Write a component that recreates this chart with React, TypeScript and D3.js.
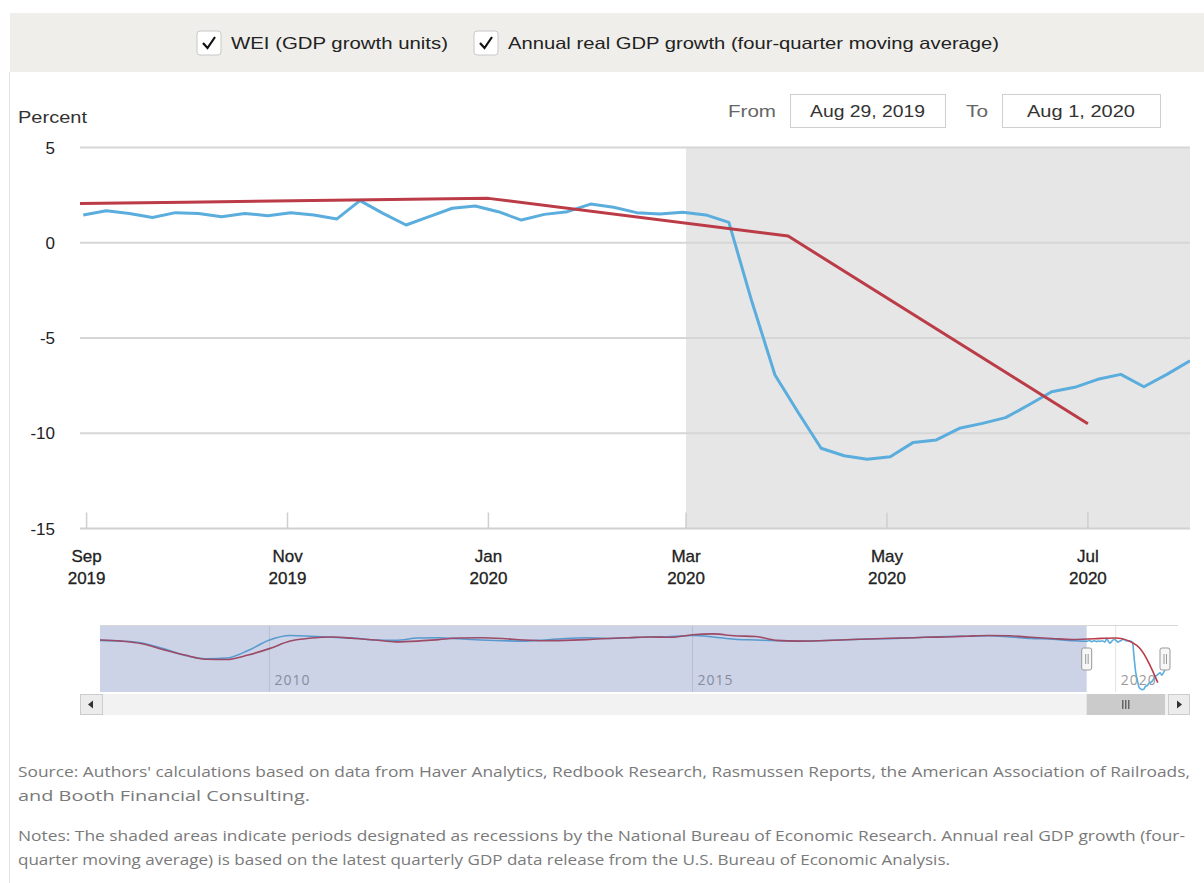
import React, { useEffect, useRef } from 'react';
import * as d3 from 'd3';

// series labels
const seriesNames = ['WEI (GDP growth units)', 'Annual real GDP growth (four-quarter moving average)'];

// WEI, weekly (weeks ending Saturday), Aug 31, 2019 .. Aug 1, 2020
const weiStart = new Date(2019, 7, 31);
const weiWeekly = [
  1.46, 1.68, 1.54, 1.33, 1.58, 1.54, 1.37, 1.54, 1.42, 1.58, 1.46, 1.25, 2.21, 1.54, 0.93, 1.37,
  1.81, 1.93, 1.63, 1.19, 1.49, 1.63, 2.03, 1.86, 1.58, 1.51, 1.6, 1.46, 1.07, -3.1, -6.94, -8.9,
  -10.79, -11.18, -11.37, -11.23, -10.48, -10.35, -9.74, -9.48, -9.18, -8.52, -7.82, -7.59, -7.17,
  -6.91, -7.56, -6.91, -6.19,
];

// WEI history for the navigator, one value per quarter, 2008Q1 .. 2019Q3
const weiHistStart = new Date(2008, 0, 1);
const weiHistory = [
  1.7, 1.5, 1.0, -0.5, -2.3, -3.2, -3.0, -1.0, 1.8, 3.0, 2.8, 2.5, 2.3, 1.8, 1.7, 2.3,
  2.4, 2.1, 1.8, 1.6, 1.5, 1.8, 2.2, 2.4, 2.2, 2.4, 2.6, 2.7, 3.0, 2.6, 2.0, 1.8,
  1.6, 1.5, 1.6, 1.8, 2.0, 2.1, 2.3, 2.5, 2.7, 2.8, 2.9, 2.6, 2.2, 2.0, 1.6,
];

// annual real GDP growth (four-quarter moving average), quarter starts 2008Q1 .. 2020Q3
const gdpStart = new Date(2008, 0, 1);
const gdpQuarterly = [
  1.8, 1.5, 0.8, -0.8, -2.2, -3.3, -3.4, -2.2, -0.5, 1.5, 2.3, 2.6, 2.2, 1.8, 1.3, 1.5,
  1.9, 2.3, 2.4, 2.2, 1.8, 1.6, 1.7, 1.9, 2.2, 2.4, 2.6, 2.5, 3.2, 3.4, 2.9, 2.7,
  1.7, 1.5, 1.6, 1.8, 2.0, 2.2, 2.3, 2.5, 2.6, 2.8, 3.0, 2.9, 2.5, 2.2, 1.93, 2.13,
  2.33, 0.35, -9.5,
];

const yTicks = [5, 0, -5, -10, -15];
const navYears = [2010, 2015, 2020];
const rangeFrom = new Date(2019, 7, 29);
const rangeTo = new Date(2020, 7, 1);
const recessionStart = new Date(2020, 2, 1);

const sourceLines = [
  "Source: Authors' calculations based on data from Haver Analytics, Redbook Research, Rasmussen Reports, the American Association of Railroads,",
  'and Booth Financial Consulting.',
];
const noteLines = [
  'Notes: The shaded areas indicate periods designated as recessions by the National Bureau of Economic Research. Annual real GDP growth (four-',
  'quarter moving average) is based on the latest quarterly GDP data release from the U.S. Bureau of Economic Analysis.',
];

const BLUE = '#5aaddc';
const RED = '#bb3b47';
const FONT = '"Liberation Sans", Arial, sans-serif';

function App() {
  const svgRef = useRef<SVGSVGElement>(null);

  useEffect(() => {
    const svg = d3.select(svgRef.current);
    svg.selectAll('*').remove();

    const wei = weiWeekly.map((v, i) => ({ date: d3.timeDay.offset(weiStart, 7 * i), value: v }));
    const weiHist = weiHistory.map((v, i) => ({ date: d3.timeMonth.offset(weiHistStart, 3 * i), value: v }));
    const gdp = gdpQuarterly.map((v, i) => ({ date: d3.timeMonth.offset(gdpStart, 3 * i), value: v }));

    // header band with the legend checkboxes
    svg.append('rect').attr('x', 10).attr('y', 13).attr('width', 1194).attr('height', 59).attr('fill', '#efeeea');
    svg.append('line').attr('x1', 9.5).attr('x2', 9.5).attr('y1', 72).attr('y2', 883).attr('stroke', '#e2e2e2');

    const legendX = [197, 474];
    const legendW = [217, 491];
    seriesNames.forEach((name, i) => {
      const g = svg.append('g').attr('transform', `translate(${legendX[i]},31)`);
      g.append('rect').attr('width', 24).attr('height', 24).attr('rx', 3).attr('fill', '#fff').attr('stroke', '#c8c8c8');
      g.append('path').attr('d', 'M6,12 L10.5,17 L18,6').attr('fill', 'none').attr('stroke', '#111').attr('stroke-width', 2.2);
      g.append('text').attr('x', 34).attr('y', 18).attr('font-family', FONT).attr('font-size', 16.5).attr('fill', '#222')
        .attr('textLength', legendW[i]).attr('lengthAdjust', 'spacingAndGlyphs').text(name);
    });

    // range inputs
    svg.append('text').attr('x', 728).attr('y', 117).attr('font-family', FONT).attr('font-size', 17).attr('fill', '#666')
      .attr('textLength', 48).attr('lengthAdjust', 'spacingAndGlyphs').text('From');
    svg.append('text').attr('x', 966).attr('y', 117).attr('font-family', FONT).attr('font-size', 17).attr('fill', '#666')
      .attr('textLength', 22).attr('lengthAdjust', 'spacingAndGlyphs').text('To');
    const fmtInput = d3.timeFormat('%b %-d, %Y');
    const inputs: [number, number, Date, number][] = [[790, 155, rangeFrom, 115], [1002, 158, rangeTo, 108]];
    inputs.forEach(([x0, w, d, tl]) => {
      svg.append('rect').attr('x', x0 + 0.5).attr('y', 94.5).attr('width', w).attr('height', 33)
        .attr('fill', '#fff').attr('stroke', '#cfcfcf');
      svg.append('text').attr('x', x0 + w / 2 - tl / 2).attr('y', 117)
        .attr('font-family', FONT).attr('font-size', 17).attr('fill', '#333')
        .attr('textLength', tl).attr('lengthAdjust', 'spacingAndGlyphs').text(fmtInput(d));
    });

    svg.append('text').attr('x', 18).attr('y', 123).attr('font-family', FONT).attr('font-size', 17).attr('fill', '#333')
      .attr('textLength', 69).attr('lengthAdjust', 'spacingAndGlyphs').text('Percent');

    // main plot
    const x = d3.scaleTime().domain([new Date(2019, 7, 30), rangeTo]).range([80, 1190]);
    const y = d3.scaleLinear().domain([-15, 5]).range([528.5, 147.5]);
    const [px0, px1] = x.range();

    svg.append('defs').append('clipPath').attr('id', 'plotClip')
      .append('rect').attr('x', px0).attr('y', y(5) - 2).attr('width', px1 - px0).attr('height', y(-15) - y(5) + 4);

    svg.append('rect').attr('x', x(recessionStart)).attr('y', y(5)).attr('width', px1 - x(recessionStart))
      .attr('height', y(-15) - y(5)).attr('fill', '#e6e6e6');

    svg.append('g').selectAll('line').data(yTicks.filter(t => t !== -15)).join('line')
      .attr('x1', px0).attr('x2', px1).attr('y1', d => y(d)).attr('y2', d => y(d))
      .attr('stroke', '#d6d6d6').attr('stroke-width', 2);

    svg.append('g').selectAll('text').data(yTicks).join('text')
      .attr('x', 55).attr('y', d => y(d) + 6).attr('text-anchor', 'end')
      .attr('font-family', FONT).attr('font-size', 17).attr('fill', '#222').text(d => String(d));

    // x axis
    svg.append('line').attr('x1', px0).attr('x2', px1).attr('y1', y(-15)).attr('y2', y(-15)).attr('stroke', '#d0d0d0').attr('stroke-width', 2);
    const xTicks = x.ticks(d3.timeMonth.every(2) as d3.TimeInterval);
    const xt = svg.append('g').selectAll('g').data(xTicks).join('g').attr('transform', d => `translate(${x(d)},0)`);
    xt.append('line').attr('y1', y(-15) - 16).attr('y2', y(-15)).attr('stroke', '#cfcfcf').attr('stroke-width', 1.5);
    xt.append('text').attr('y', 562).attr('text-anchor', 'middle').attr('font-family', FONT).attr('font-size', 17)
      .attr('fill', '#222').attr('stroke', '#222').attr('stroke-width', 0.3).text(d => d3.timeFormat('%b')(d));
    xt.append('text').attr('y', 584).attr('text-anchor', 'middle').attr('font-family', FONT).attr('font-size', 17)
      .attr('fill', '#222').attr('stroke', '#222').attr('stroke-width', 0.3).text(d => d3.timeFormat('%Y')(d));

    const line = d3.line<{ date: Date; value: number }>().x(d => x(d.date)).y(d => y(d.value));
    const lines = svg.append('g').attr('clip-path', 'url(#plotClip)');
    lines.append('path').datum(wei).attr('d', line).attr('fill', 'none').attr('stroke', BLUE).attr('stroke-width', 3).attr('stroke-linejoin', 'round');
    lines.append('path').datum(gdp).attr('d', line).attr('fill', 'none').attr('stroke', RED).attr('stroke-width', 3).attr('stroke-linejoin', 'round');

    // navigator
    const xN = d3.scaleTime().domain([new Date(2008, 0, 1), rangeTo]).range([100, 1165]);
    const yN = d3.scaleLinear().domain([-12, 5.5]).range([692, 626]);
    const nx0 = 100;
    const nx1 = 1178;

    svg.append('rect').attr('x', nx0).attr('y', 626).attr('width', nx1 - nx0).attr('height', 66).attr('fill', '#fff');
    svg.append('g').selectAll('line').data(navYears).join('line')
      .attr('x1', d => xN(new Date(d, 0, 1))).attr('x2', d => xN(new Date(d, 0, 1)))
      .attr('y1', 626).attr('y2', 692).attr('stroke', '#e2e2e2');
    svg.append('g').selectAll('text').data(navYears).join('text')
      .attr('x', d => xN(new Date(d, 0, 1)) + 5).attr('y', 685)
      .attr('font-family', '"Open Sans", sans-serif').attr('font-size', 14).attr('letter-spacing', 1)
      .attr('fill', '#9a9a9a').text(d => String(d));

    const lineN = d3.line<{ date: Date; value: number }>().x(d => xN(d.date)).y(d => yN(d.value)).curve(d3.curveMonotoneX);
    svg.append('path').datum(weiHist.concat(wei)).attr('d', lineN).attr('fill', 'none').attr('stroke', BLUE).attr('stroke-width', 1.6);
    svg.append('path').datum(gdp).attr('d', lineN).attr('fill', 'none').attr('stroke', RED).attr('stroke-width', 1.6);

    const hL = xN(rangeFrom);
    const hR = xN(rangeTo);
    svg.append('rect').attr('x', nx0).attr('y', 626).attr('width', hL - nx0).attr('height', 66).attr('fill', 'rgba(85,110,175,0.3)');
    svg.append('line').attr('x1', nx0).attr('x2', nx1).attr('y1', 625.5).attr('y2', 625.5).attr('stroke', '#d8d8d8');

    [hL, hR].forEach(hx => {
      const g = svg.append('g').attr('transform', `translate(${hx},648)`);
      g.append('rect').attr('x', -5).attr('width', 10).attr('height', 22).attr('rx', 2).attr('fill', '#f7f7f7').attr('stroke', '#999');
      g.append('line').attr('x1', -1).attr('x2', -1).attr('y1', 6).attr('y2', 16).attr('stroke', '#999');
      g.append('line').attr('x1', 1.5).attr('x2', 1.5).attr('y1', 6).attr('y2', 16).attr('stroke', '#999');
    });

    // scrollbar
    svg.append('rect').attr('x', 80).attr('y', 694).attr('width', 1110).attr('height', 21).attr('fill', '#f2f2f2');
    svg.append('rect').attr('x', 80.5).attr('y', 694.5).attr('width', 22).attr('height', 20).attr('fill', '#ececec').attr('stroke', '#ccc');
    svg.append('path').attr('d', 'M88,704.5 L93,700.5 L93,708.5 Z').attr('fill', '#333');
    svg.append('rect').attr('x', hL).attr('y', 694).attr('width', hR - hL).attr('height', 21).attr('fill', '#cbcbcb');
    const gx = (hL + hR) / 2;
    [-3, 0, 3].forEach(o => {
      svg.append('line').attr('x1', gx + o).attr('x2', gx + o).attr('y1', 700).attr('y2', 709).attr('stroke', '#333');
    });
    svg.append('rect').attr('x', 1168.5).attr('y', 694.5).attr('width', 21).attr('height', 20).attr('fill', '#ececec').attr('stroke', '#ccc');
    svg.append('path').attr('d', 'M1177,700.5 L1182,704.5 L1177,708.5 Z').attr('fill', '#333');

    // footnotes
    const foot = (lines2: string[], y0: number, widths: number[]) => {
      lines2.forEach((t, i) => {
        svg.append('text').attr('x', 18).attr('y', y0 + i * 24).attr('font-family', '"Open Sans", sans-serif')
          .attr('font-size', 14.5).attr('fill', '#7a7a7a')
          .attr('textLength', widths[i]).attr('lengthAdjust', 'spacingAndGlyphs').text(t);
      });
    };
    foot(sourceLines, 777, [1172, 292]);
    foot(noteLines, 841, [1167, 932]);
  }, []);

  return (
    <div style={{ position: 'absolute', left: 0, top: 0 }}>
      <svg ref={svgRef} width={1204} height={883} style={{ display: 'block', background: '#fff' }} />
    </div>
  );
}

export default App;
